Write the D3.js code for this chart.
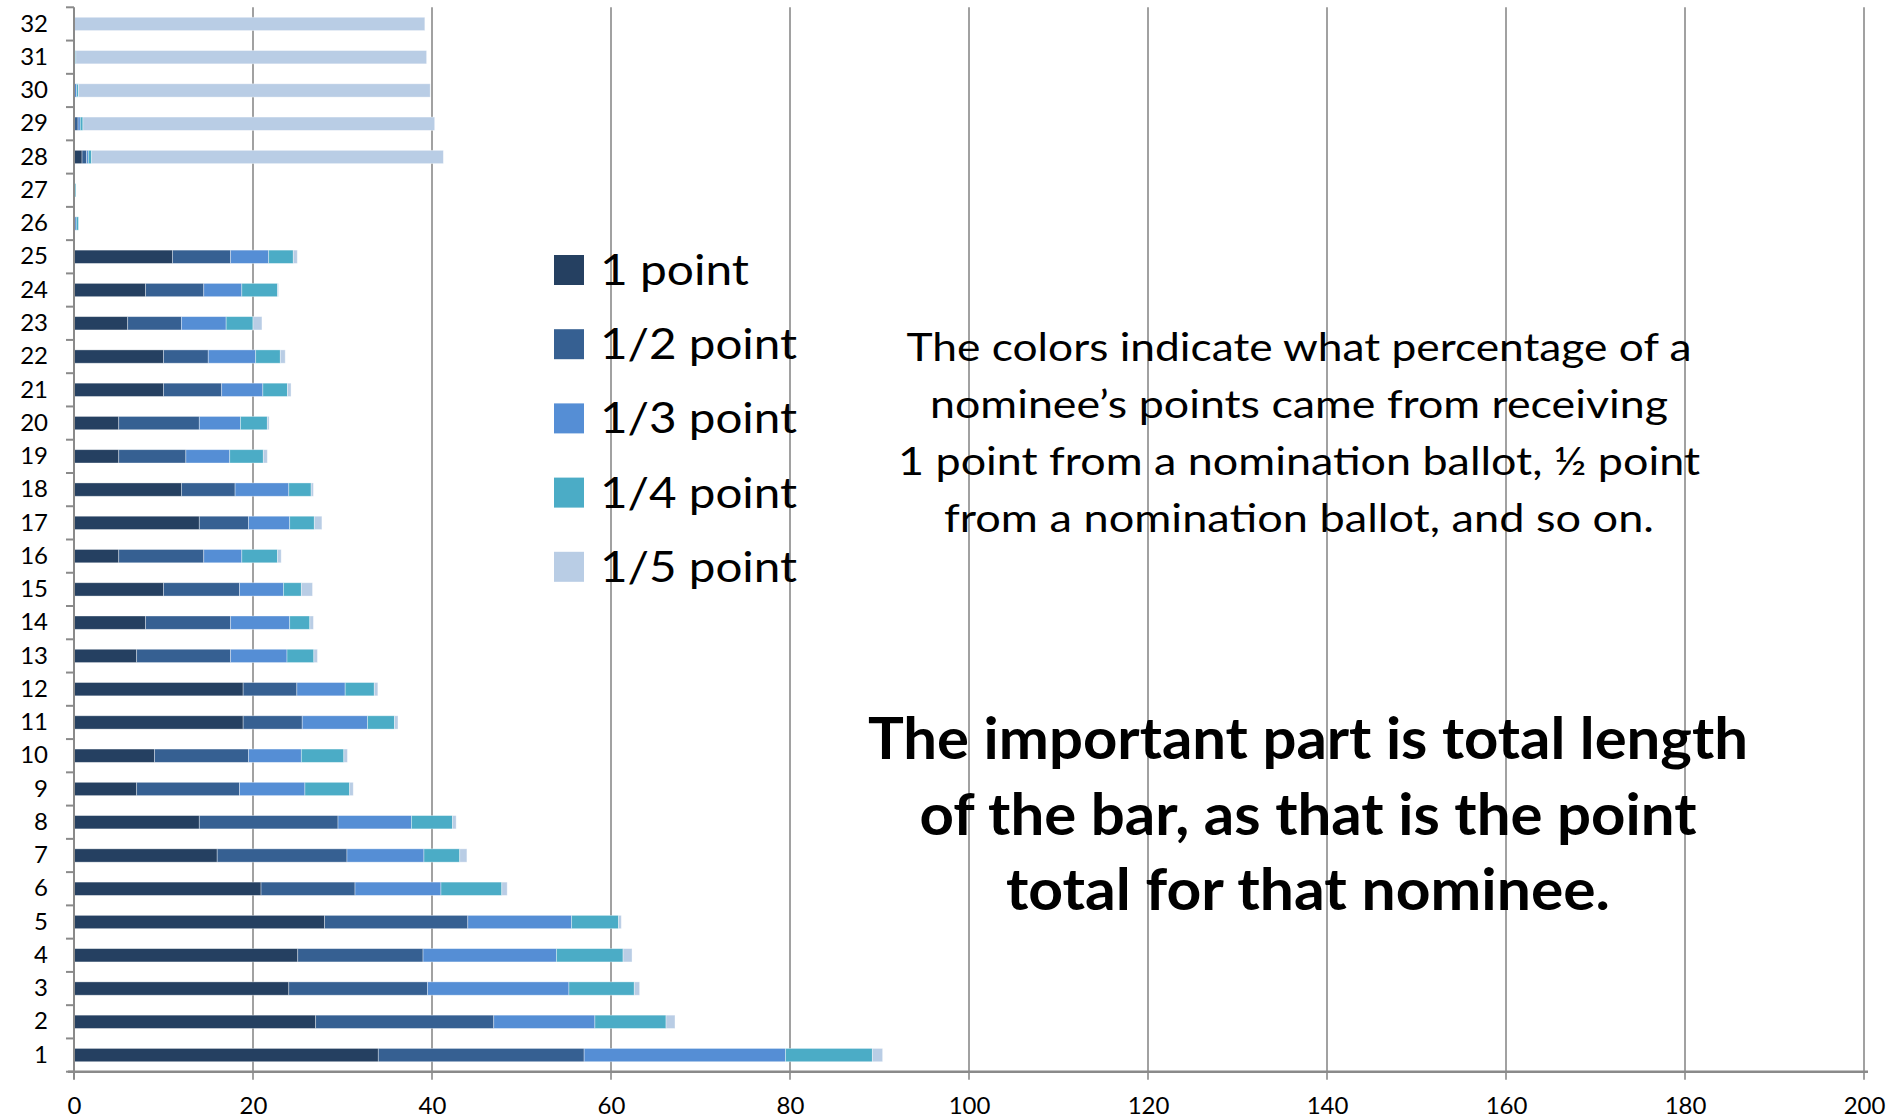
<!DOCTYPE html>
<html>
<head>
<meta charset="utf-8">
<script src="https://cdn.jsdelivr.net/npm/d3@7"></script>
<style>
  html, body { margin: 0; padding: 0; background: #ffffff; }
  svg { display: block; font-family: Lato, "Open Sans", sans-serif; }
</style>
</head>
<body>
<svg id="chart" width="1895" height="1120"></svg>
<script>
// ---- Data (nominee 1 .. 32) ----
const categories = d3.range(1, 33).map(String);
const seriesNames = ["1 point", "1/2 point", "1/3 point", "1/4 point", "1/5 point"];
const seriesColors = ["#254061", "#366092", "#558ED5", "#4BACC6", "#B9CDE5"];

const onePoint   = [34.0, 27.0, 24.0, 25.0, 28.0, 20.9, 16.0, 14.0, 7.0, 9.0, 18.9, 18.9, 7.0, 8.0, 10.0, 5.0,
                    14.0, 12.0, 5.0, 5.0, 10.0, 10.0, 6.0, 8.0, 11.0, 0, 0, 0.9, 0, 0, 0, 0];
const halfPoint  = [23.0, 19.9, 15.5, 14.0, 16.0, 10.5, 14.5, 15.5, 11.5, 10.5, 6.6, 6.0, 10.5, 9.5, 8.5, 9.5,
                    5.5, 6.0, 7.5, 9.0, 6.5, 5.0, 6.0, 6.5, 6.5, 0, 0, 0.5, 0.45, 0, 0, 0];
const thirdPoint = [22.5, 11.3, 15.8, 14.9, 11.6, 9.6, 8.6, 8.2, 7.3, 5.9, 7.3, 5.4, 6.3, 6.6, 4.9, 4.25,
                    4.6, 6.0, 4.9, 4.6, 4.6, 5.3, 5.0, 4.25, 4.25, 0.25, 0, 0.2, 0.25, 0.3, 0, 0];
const quarterPt  = [9.7, 7.95, 7.3, 7.45, 5.25, 6.8, 4.0, 4.6, 5.0, 4.75, 3.0, 3.25, 3.0, 2.25, 2.0, 4.0,
                    2.75, 2.5, 3.75, 3.0, 2.75, 2.75, 3.0, 4.0, 2.75, 0.25, 0.2, 0.37, 0.3, 0.2, 0.2, 0];
const fifthPoint = [1.15, 1.0, 0.6, 1.0, 0.3, 0.6, 0.8, 0.4, 0.4, 0.4, 0.4, 0.4, 0.4, 0.4, 1.25, 0.4,
                    0.85, 0.25, 0.45, 0.2, 0.4, 0.55, 1.0, 0.1, 0.45, 0, 0, 39.3, 39.3, 39.3, 39.2, 39.2];

const xTicks = [0, 20, 40, 60, 80, 100, 120, 140, 160, 180, 200];

const noteLines = [
  "The colors indicate what percentage of a",
  "nominee\u2019s points came from receiving",
  "1 point from a nomination ballot, \u00BD point",
  "from a nomination ballot, and so on."
];
const boldLines = [
  "The important part is total length",
  "of the bar, as that is the point",
  "total for that nominee."
];

// ---- Build table ----
const keys = seriesNames;
const table = categories.map((c, i) => ({
  cat: c,
  "1 point": onePoint[i],
  "1/2 point": halfPoint[i],
  "1/3 point": thirdPoint[i],
  "1/4 point": quarterPt[i],
  "1/5 point": fifthPoint[i]
}));
const stacked = d3.stack().keys(keys)(table);
const color = d3.scaleOrdinal().domain(keys).range(seriesColors);

// ---- Layout ----
const svg = d3.select("#chart");
const plot = { left: 74, right: 1864, top: 7.3, bottom: 1071.7 };

const x = d3.scaleLinear().domain([0, 200]).range([plot.left, plot.right]);
const y = d3.scaleBand()
  .domain(categories.slice().reverse())
  .range([plot.top, plot.bottom])
  .paddingInner(0.6)
  .paddingOuter(0.3);

const gridColor = "#8a8a8a";

// Vertical gridlines (with tick marks below axis)
svg.append("g")
  .selectAll("line")
  .data(xTicks.filter(d => d > 0))
  .join("line")
  .attr("x1", d => x(d)).attr("x2", d => x(d))
  .attr("y1", plot.top).attr("y2", plot.bottom + 8)
  .attr("stroke", gridColor)
  .attr("stroke-width", 1.6);

// Bars
svg.append("g")
  .selectAll("g")
  .data(stacked)
  .join("g")
  .attr("fill", d => color(d.key))
  .selectAll("rect")
  .data(d => d.filter(s => s[1] - s[0] > 0))
  .join("rect")
  .attr("x", d => x(d[0]))
  .attr("y", d => y(d.data.cat))
  .attr("width", d => x(d[1]) - x(d[0]))
  .attr("height", y.bandwidth())
  .attr("stroke", "rgba(255,255,255,0.45)")
  .attr("stroke-width", 0.8);

// Left (category) axis
const yAxis = d3.axisLeft(y).tickSize(0).tickPadding(26);
const yg = svg.append("g").attr("transform", `translate(${plot.left},0)`).call(yAxis);
yg.select(".domain").remove();
yg.selectAll("text")
  .attr("font-size", 24)
  .attr("fill", "#000")
  .attr("font-family", "Lato, sans-serif");

// Axis line and boundary ticks
svg.append("line")
  .attr("x1", plot.left).attr("x2", plot.left)
  .attr("y1", plot.top).attr("y2", plot.bottom + 8)
  .attr("stroke", gridColor).attr("stroke-width", 2);
const boundaries = categories.map(c => y(c) - y.step() * y.paddingInner() / 2)
  .concat([plot.bottom]);
svg.append("g")
  .selectAll("line")
  .data(boundaries)
  .join("line")
  .attr("x1", plot.left - 8).attr("x2", plot.left)
  .attr("y1", d => d).attr("y2", d => d)
  .attr("stroke", gridColor).attr("stroke-width", 2);

// Bottom value axis
const xAxis = d3.axisBottom(x).tickValues(xTicks).tickSize(0).tickPadding(25);
const xg = svg.append("g").attr("transform", `translate(0,${plot.bottom})`).call(xAxis);
xg.select(".domain").remove();
xg.selectAll("text")
  .attr("font-size", 24)
  .attr("fill", "#000")
  .attr("font-family", "Lato, sans-serif");
svg.append("line")
  .attr("x1", plot.left - 6).attr("x2", plot.right + 4)
  .attr("y1", plot.bottom).attr("y2", plot.bottom)
  .attr("stroke", gridColor).attr("stroke-width", 2.5);

// Legend
const legend = svg.append("g").attr("transform", "translate(554,255)");
const legRow = legend.selectAll("g")
  .data(keys)
  .join("g")
  .attr("transform", (d, i) => `translate(0,${i * 74.2})`);
legRow.append("rect")
  .attr("width", 30).attr("height", 30)
  .attr("fill", d => color(d));
legRow.append("text")
  .attr("x", 46).attr("y", 30)
  .attr("font-size", 42)
  .attr("fill", "#000")
  .attr("textLength", (d, i) => i === 0 ? 149 : 197)
  .attr("lengthAdjust", "spacingAndGlyphs")
  .text(d => d);

// Note text
const noteWidths = [785, 738, 802, 710];
svg.append("g")
  .selectAll("text")
  .data(noteLines)
  .join("text")
  .attr("x", 1299)
  .attr("y", (d, i) => 361 + i * 57)
  .attr("text-anchor", "middle")
  .attr("font-size", 38)
  .attr("fill", "#000")
  .attr("textLength", (d, i) => noteWidths[i])
  .attr("lengthAdjust", "spacingAndGlyphs")
  .text(d => d);

const boldWidths = [880, 777, 604];
svg.append("g")
  .selectAll("text")
  .data(boldLines)
  .join("text")
  .attr("x", 1308)
  .attr("y", (d, i) => 759 + i * 75.5)
  .attr("text-anchor", "middle")
  .attr("font-size", 58)
  .attr("font-weight", "bold")
  .attr("fill", "#000")
  .attr("textLength", (d, i) => boldWidths[i])
  .attr("lengthAdjust", "spacingAndGlyphs")
  .text(d => d);
</script>
</body>
</html>
